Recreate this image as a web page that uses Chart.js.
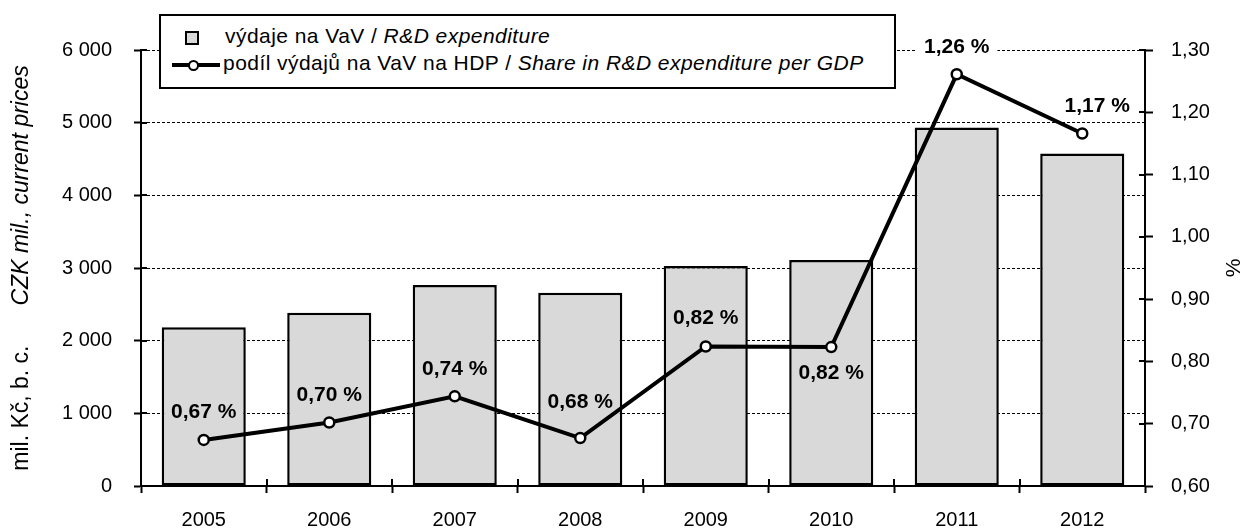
<!DOCTYPE html>
<html>
<head>
<meta charset="utf-8">
<script src="https://cdn.jsdelivr.net/npm/chart.js@4.4.1/dist/chart.umd.min.js"></script>
<style>
  html, body { margin: 0; padding: 0; background: #fff; }
  #wrap { position: relative; width: 1258px; height: 530px; font-family: "Liberation Sans", Arial, sans-serif; }
  #c { position: absolute; left: 0; top: 0; }
  #legend { position: absolute; left: 159px; top: 14px; width: 733px; height: 71px; border: 2px solid #000; background: #fff; font-size: 21px; color: #000; letter-spacing: 0.45px; }
  #legend .sq { position: absolute; left: 24px; top: 15px; width: 14px; height: 14px; box-sizing: border-box; border: 2px solid #000; background: #d9d9d9; }
  #legend .ln { position: absolute; left: 11px; top: 47px; width: 48px; height: 4px; background: #000; }
  #legend .pt { position: absolute; left: 27px; top: 43.5px; width: 11px; height: 11px; box-sizing: border-box; border: 2px solid #000; border-radius: 50%; background: #fff; }
  #legend .t { position: absolute; white-space: nowrap; line-height: 20px; }
  #legend .t1 { left: 64px; top: 10px; }
  #legend .t2 { left: 62px; top: 37px; }
</style>
</head>
<body>
<div id="wrap">
  <canvas id="c" width="1258" height="530"></canvas>
  <div id="legend">
    <div class="sq"></div>
    <div class="t t1">výdaje na VaV / <i>R&amp;D expenditure</i></div>
    <div class="ln"></div><div class="pt"></div>
    <div class="t t2">podíl výdajů na VaV na HDP / <i>Share in R&amp;D expenditure per GDP</i></div>
  </div>
</div>
<script>
// ---- data ----
const years = ['2005', '2006', '2007', '2008', '2009', '2010', '2011', '2012'];
const expenditure = [2183, 2384, 2765, 2659, 3026, 3109, 4934, 4576];   // mil. Kč
const gdpShare = [0.674, 0.702, 0.744, 0.677, 0.824, 0.823, 1.261, 1.166]; // %
const leftAxis = { min: 0, max: 6000, step: 1000 };
const rightAxis = { min: 0.6, max: 1.3, step: 0.1 };
const seriesNames = ['podíl výdajů na VaV na HDP', 'výdaje na VaV'];

// ---- label styling (offsets relative to points) ----
const labelDy = [-29, -28, -28, -37, -29, 25, -28, -28];
const labelDx = [0, 0, 0, 0, 0, 0, 0, 15];
const labelBg = [false, false, false, false, false, false, true, false];

const FONT = '"Liberation Sans", Arial, sans-serif';

function fmtThousands(v) {
  return String(Math.round(v)).replace(/\B(?=(\d{3})+(?!\d))/g, ' ');
}
function fmtPct(v) { return v.toFixed(2).replace('.', ','); }

const extras = {
  id: 'extras',
  beforeDatasetsDraw(chart) {
    const ctx = chart.ctx;
    const ca = chart.chartArea;
    ctx.save();
    ctx.strokeStyle = '#000';
    ctx.lineWidth = 2;
    ctx.setLineDash([]);
    // inner halves of cross ticks
    const y = chart.scales.y, y1 = chart.scales.y1, x = chart.scales.x;
    y.ticks.forEach((t, i) => {
      const py = Math.round(y.getPixelForTick(i));
      ctx.beginPath(); ctx.moveTo(ca.left, py); ctx.lineTo(ca.left + 6, py); ctx.stroke();
    });
    y1.ticks.forEach((t, i) => {
      const py = Math.round(y1.getPixelForTick(i));
      ctx.beginPath(); ctx.moveTo(ca.right - 6, py); ctx.lineTo(ca.right, py); ctx.stroke();
    });
    for (let i = 1; i < years.length; i++) {
      const px = Math.round((x.getPixelForTick(i - 1) + x.getPixelForTick(i)) / 2);
      ctx.beginPath(); ctx.moveTo(px, ca.bottom - 7); ctx.lineTo(px, ca.bottom); ctx.stroke();
    }
    ctx.restore();
  },
  afterDatasetsDraw(chart) {
    const ctx = chart.ctx;
    const meta = chart.getDatasetMeta(0);
    ctx.save();
    ctx.font = 'bold 21px ' + FONT;
    ctx.textAlign = 'center';
    ctx.textBaseline = 'middle';
    meta.data.forEach((p, i) => {
      const tx = p.x + labelDx[i];
      const ty = p.y + labelDy[i];
      const txt = fmtPct(gdpShare[i]) + ' %';
      if (labelBg[i]) {
        const w = ctx.measureText(txt).width + 16;
        ctx.fillStyle = '#fff';
        ctx.fillRect(tx - w / 2, ty - 11, w, 22);
      }
      ctx.fillStyle = '#000';
      ctx.fillText(txt, tx, ty + 1);
    });
    ctx.restore();
  },
  afterDraw(chart) {
    const ctx = chart.ctx;
    const ca = chart.chartArea;
    const cy = (ca.top + ca.bottom) / 2;
    ctx.save();
    ctx.fillStyle = '#000';
    ctx.textBaseline = 'alphabetic';
    // left axis title, two parts
    const p1 = 'mil. Kč, b. c.';
    const p2 = 'CZK mil., current prices';
    const gap = 40;
    ctx.font = '23px ' + FONT;
    const w1 = ctx.measureText(p1).width;
    ctx.font = 'italic 23px ' + FONT;
    const w2 = ctx.measureText(p2).width;
    const total = w1 + gap + w2;
    ctx.translate(28, cy);
    ctx.rotate(-Math.PI / 2);
    ctx.textAlign = 'left';
    ctx.font = '23px ' + FONT;
    ctx.fillText(p1, -total / 2, 0);
    ctx.font = 'italic 23px ' + FONT;
    ctx.fillText(p2, -total / 2 + w1 + gap, 0);
    ctx.restore();
    // right axis title
    ctx.save();
    ctx.fillStyle = '#000';
    ctx.textBaseline = 'alphabetic';
    ctx.textAlign = 'center';
    ctx.font = '21px ' + FONT;
    ctx.translate(1240, cy);
    ctx.rotate(-Math.PI / 2);
    ctx.fillText('%', 0, 0);
    ctx.restore();
  }
};

new Chart(document.getElementById('c'), {
  data: {
    labels: years,
    datasets: [
      {
        type: 'line',
        label: seriesNames[0],
        data: gdpShare,
        yAxisID: 'y1',
        borderColor: '#000',
        borderWidth: 4,
        pointRadius: 5,
        pointBorderWidth: 2.5,
        pointBackgroundColor: '#fff',
        pointBorderColor: '#000',
        tension: 0,
        order: 0
      },
      {
        type: 'bar',
        label: seriesNames[1],
        data: expenditure,
        yAxisID: 'y',
        backgroundColor: '#d9d9d9',
        borderColor: '#000',
        borderWidth: 2.5,
        borderSkipped: false,
        categoryPercentage: 1,
        barPercentage: 0.67,
        order: 1
      }
    ]
  },
  options: {
    responsive: false,
    animation: false,
    devicePixelRatio: 1,
    layout: { padding: { top: 50, left: 0, right: 0, bottom: 0 } },
    plugins: { legend: { display: false }, tooltip: { enabled: false } },
    scales: {
      x: {
        grid: { drawOnChartArea: false, drawTicks: true, tickLength: 7, tickColor: '#000', tickWidth: 2, offset: true },
        border: { display: true, color: '#000', width: 2 },
        ticks: { color: '#000', font: { family: FONT, size: 20 }, padding: 15, maxRotation: 0 },
        afterFit(s) { s.height = 44; }
      },
      y: {
        position: 'left',
        min: leftAxis.min, max: leftAxis.max,
        grid: { color: '#000', lineWidth: 1, tickLength: 7, tickColor: '#000', tickWidth: 2, tickBorderDash: [] },
        border: { display: true, color: '#000', width: 2, dash: [3, 2] },
        ticks: { stepSize: leftAxis.step, color: '#000', font: { family: FONT, size: 20 }, padding: 22, callback: v => fmtThousands(v) },
        afterFit(s) { s.width = 141; }
      },
      y1: {
        position: 'right',
        min: rightAxis.min, max: rightAxis.max,
        grid: { drawOnChartArea: false, tickLength: 8, tickColor: '#000', tickWidth: 2 },
        border: { display: true, color: '#000', width: 2 },
        ticks: { stepSize: rightAxis.step, color: '#000', font: { family: FONT, size: 20 }, padding: 18, callback: v => fmtPct(v) },
        afterFit(s) { s.width = 113; }
      }
    }
  },
  plugins: [extras]
});
</script>
</body>
</html>
